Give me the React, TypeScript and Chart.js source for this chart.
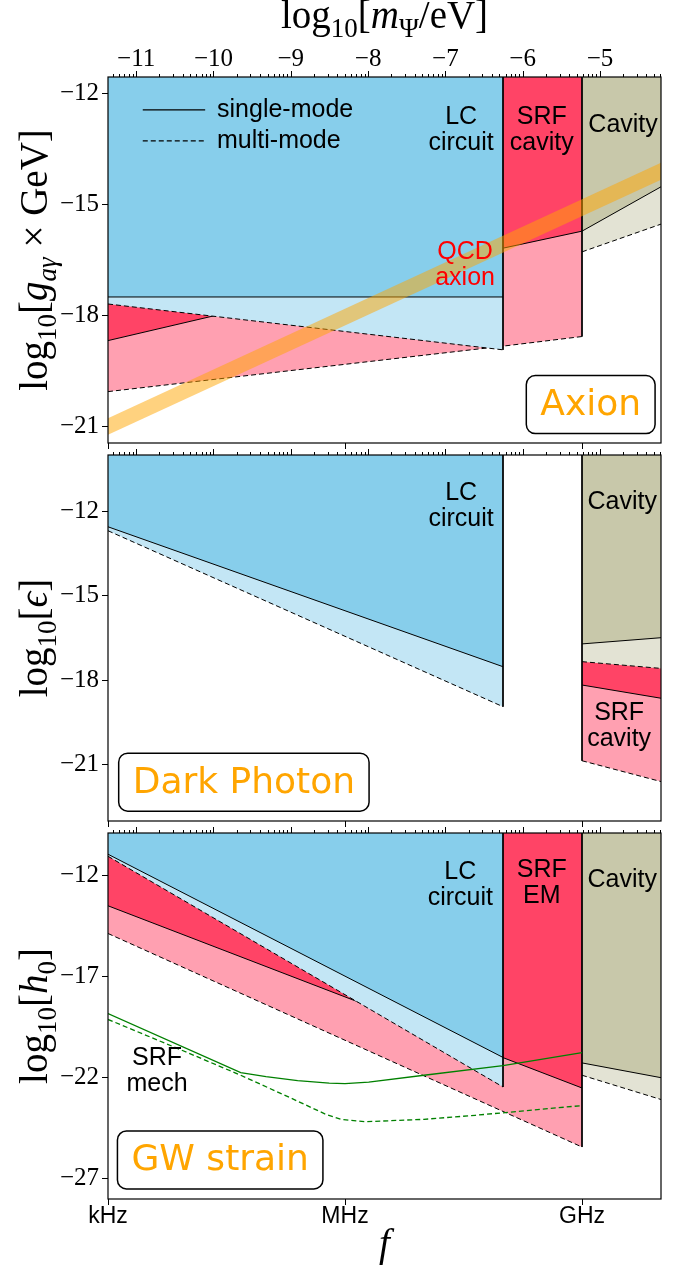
import React, { useEffect, useRef } from 'react';
import { Chart, registerables } from 'chart.js';

Chart.register(...registerables);

type Pt = [number, number];

// ---------------- axes ----------------
const F_RANGE: [number, number] = [3, 10]; // log10(f / Hz)
const MASS_RANGE: [number, number] = [-11.365, -4.21]; // log10(m / eV), top axis
const freqTicks = [3, 6, 9];
const freqTickLabels = ['kHz', 'MHz', 'GHz'];
const massTicks = [-11, -10, -9, -8, -7, -6, -5];

const axionYRange: [number, number] = [-21.45, -11.55];
const axionYTicks = [-12, -15, -18, -21];
const photonYRange: [number, number] = [-23, -10];
const photonYTicks = [-12, -15, -18, -21];
const gwYRange: [number, number] = [-28, -9.9];
const gwYTicks = [-12, -17, -22, -27];

// ---------------- Axion panel ----------------
const axionLcSingle: Pt[] = [[3, -17.5], [8, -17.5]];
const axionLcMulti: Pt[] = [[3, -17.69], [8, -18.93]];
const axionSrfSingle: Pt[] = [[3, -18.68], [8, -16.18], [9, -15.72]];
const axionSrfMulti: Pt[] = [[3, -20.06], [8, -18.83], [9, -18.57]];
const axionCavSingle: Pt[] = [[9, -15.72], [10, -14.52]];
const axionCavMulti: Pt[] = [[9, -16.28], [10, -15.53]];
const qcdAxionUpper: Pt[] = [[3, -20.78], [10, -13.87]];
const qcdAxionLower: Pt[] = [[3, -21.23], [10, -14.33]];

// ---------------- Dark photon panel ----------------
const photonLcSingle: Pt[] = [[3, -12.55], [8, -17.52]];
const photonLcMulti: Pt[] = [[3, -12.69], [8, -18.94]];
const photonSrfSingle: Pt[] = [[9, -18.17], [10, -18.64]];
const photonSrfMulti: Pt[] = [[9, -20.86], [10, -21.6]];
const photonCavSingle: Pt[] = [[9, -16.71], [10, -16.49]];
const photonCavMulti: Pt[] = [[9, -17.34], [10, -17.58]];

// ---------------- GW strain panel ----------------
const gwLcSingle: Pt[] = [[3, -10.95], [8, -21.0]];
const gwLcMulti: Pt[] = [[3, -11.05], [8, -22.46]];
const gwSrfSingle: Pt[] = [[3, -13.5], [9, -22.51]];
const gwSrfMulti: Pt[] = [[3, -14.87], [9, -25.43]];
const gwCavSingle: Pt[] = [[9, -21.27], [10, -22.0]];
const gwCavMulti: Pt[] = [[9, -21.88], [10, -23.08]];
const gwMechSingle: Pt[] = [
  [3, -18.83], [4.68, -21.75], [5.0, -21.95], [5.4, -22.15], [5.8, -22.27],
  [6.0, -22.29], [6.3, -22.22], [7.0, -21.88], [8.0, -21.4], [9.0, -20.76],
];
const gwMechMulti: Pt[] = [
  [3, -19.12], [4.0, -20.75], [4.68, -21.88], [5.3, -22.98], [5.75, -23.8],
  [5.95, -24.06], [6.25, -24.18], [7.0, -24.06], [7.65, -23.86], [9.0, -23.38],
];

// ---------------- annotations (data coordinates) ----------------
type Label = { lines: string[]; x: number; y: number; color?: string };
type BoxLabel = { text: string; x: number; y: number };

const axionLabels: Label[] = [
  { lines: ['LC', 'circuit'], x: 7.47, y: -12.63 },
  { lines: ['SRF', 'cavity'], x: 8.49, y: -12.63 },
  { lines: ['Cavity'], x: 9.52, y: -12.85 },
  { lines: ['QCD', 'axion'], x: 7.52, y: -16.28, color: '#FF0000' },
];
const photonLabels: Label[] = [
  { lines: ['LC', 'circuit'], x: 7.47, y: -11.35 },
  { lines: ['Cavity'], x: 9.51, y: -11.67 },
  { lines: ['SRF', 'cavity'], x: 9.47, y: -19.17 },
];
const gwLabels: Label[] = [
  { lines: ['LC', 'circuit'], x: 7.46, y: -11.83 },
  { lines: ['SRF', 'EM'], x: 8.49, y: -11.73 },
  { lines: ['Cavity'], x: 9.51, y: -12.22 },
  { lines: ['SRF', 'mech'], x: 3.62, y: -21.03 },
];
const axionBox: BoxLabel = { text: 'Axion', x: 9.11, y: -20.41 };
const photonBox: BoxLabel = { text: 'Dark Photon', x: 4.72, y: -21.62 };
const gwBox: BoxLabel = { text: 'GW strain', x: 4.42, y: -26.07 };

const legendLabels = ['single-mode', 'multi-mode'];
const legendLineX: [number, number] = [3.44, 4.23];
const legendRowY = [-12.44, -13.28];
const legendTextX = 4.38;

// ---------------- styles ----------------
const COLORS = {
  lc: '#87CEEB',
  lcMulti: '#C3E6F5',
  srf: '#FF4466',
  srfMulti: '#FFA0B1',
  cav: '#C8C8AA',
  cavMulti: '#E3E3D4',
  qcd: 'rgba(255,165,0,0.5)',
  mech: '#008000',
  box: '#FFA500',
};
const SANS = '"Liberation Sans", Arial, Helvetica, sans-serif';
const SERIF = '"Liberation Serif", "Times New Roman", serif';
const DEJAVU = '"DejaVu Sans", sans-serif';
const DASH = [5, 3];

type Piece = { t: string; italic?: boolean; sub?: boolean };

const titleAxion: Piece[] = [
  { t: 'log' }, { t: '10', sub: true }, { t: '[' }, { t: 'g', italic: true },
  { t: 'aγ', italic: true, sub: true }, { t: ' × ' }, { t: 'GeV' }, { t: ']' },
];
const titlePhoton: Piece[] = [
  { t: 'log' }, { t: '10', sub: true }, { t: '[' }, { t: 'ϵ', italic: true }, { t: ']' },
];
const titleGw: Piece[] = [
  { t: 'log' }, { t: '10', sub: true }, { t: '[' }, { t: 'h', italic: true },
  { t: '0', sub: true }, { t: ']' },
];
const titleMass: Piece[] = [
  { t: 'log' }, { t: '10', sub: true }, { t: '[' }, { t: 'm', italic: true },
  { t: 'Ψ', sub: true }, { t: '/eV' }, { t: ']' },
];
const titleFreq: Piece[] = [{ t: 'f', italic: true }];

function drawMath(ctx: CanvasRenderingContext2D, pieces: Piece[], size: number, cx: number, cy: number, rotate: boolean) {
  const fontFor = (p: Piece) => `${p.italic ? 'italic ' : ''}${p.sub ? Math.round(size * 0.7) : size}px ${SERIF}`;
  ctx.save();
  ctx.translate(cx, cy);
  if (rotate) ctx.rotate(-Math.PI / 2);
  let total = 0;
  const widths = pieces.map((p) => {
    ctx.font = fontFor(p);
    const w = ctx.measureText(p.t).width;
    total += w;
    return w;
  });
  let x = -total / 2;
  ctx.textAlign = 'left';
  ctx.textBaseline = 'alphabetic';
  ctx.fillStyle = '#000';
  pieces.forEach((p, i) => {
    ctx.font = fontFor(p);
    ctx.fillText(p.t, x, p.sub ? size * 0.22 : 0);
    x += widths[i];
  });
  ctx.restore();
}

const toXY = (pts: Pt[]) => pts.map(([x, y]) => ({ x, y }));

function region(pts: Pt[], fill: string, dashed: boolean) {
  return {
    data: toXY(pts),
    borderColor: '#000',
    borderWidth: 1,
    borderDash: dashed ? DASH : [],
    backgroundColor: fill,
    fill: 'end',
    pointRadius: 0,
    tension: 0,
  };
}
function edge(x: number, yTop: number, yBottom: number) {
  return {
    data: [{ x, y: yTop }, { x, y: yBottom }],
    borderColor: '#000',
    borderWidth: 1,
    fill: false,
    pointRadius: 0,
  };
}
function curve(pts: Pt[], color: string, dashed: boolean, width: number) {
  return {
    data: toXY(pts),
    borderColor: color,
    borderWidth: width,
    borderDash: dashed ? DASH : [],
    fill: false,
    pointRadius: 0,
    tension: 0,
  };
}
// first in list = drawn first (bottom)
function layered(list: any[]) {
  return list.map((d, i) => ({ ...d, order: list.length - i }));
}

interface PanelSpec {
  yRange: [number, number];
  yTicks: number[];
  datasets: any[];
  labels: Label[];
  box: BoxLabel;
  yTitle: Piece[];
  massLabels: boolean;
  freqLabels: boolean;
  padTop: number;
  bottomSpace: number;
  legend?: boolean;
}

const last = (p: Pt[]) => p[p.length - 1][1];
const first = (p: Pt[]) => p[0][1];

const axionSpec: PanelSpec = {
  yRange: axionYRange,
  yTicks: axionYTicks,
  datasets: layered([
    region(axionSrfMulti, COLORS.srfMulti, true),
    region(axionSrfSingle, COLORS.srf, false),
    region(axionLcMulti, COLORS.lcMulti, true),
    region(axionLcSingle, COLORS.lc, false),
    region(axionCavMulti, COLORS.cavMulti, true),
    region(axionCavSingle, COLORS.cav, false),
    edge(axionLcMulti[axionLcMulti.length - 1][0], axionYRange[1], last(axionLcMulti)),
    edge(axionSrfMulti[axionSrfMulti.length - 1][0], axionYRange[1], last(axionSrfMulti)),
    { data: toXY(qcdAxionUpper), borderWidth: 0, borderColor: 'rgba(0,0,0,0)', fill: false, pointRadius: 0 },
    { data: toXY(qcdAxionLower), borderWidth: 0, borderColor: 'rgba(0,0,0,0)', backgroundColor: COLORS.qcd, fill: '-1', pointRadius: 0 },
  ]),
  labels: axionLabels,
  box: axionBox,
  yTitle: titleAxion,
  massLabels: true,
  freqLabels: false,
  padTop: 0,
  bottomSpace: 6,
  legend: true,
};

const photonSpec: PanelSpec = {
  yRange: photonYRange,
  yTicks: photonYTicks,
  datasets: layered([
    region(photonSrfMulti, COLORS.srfMulti, true),
    region(photonSrfSingle, COLORS.srf, false),
    region(photonCavMulti, COLORS.cavMulti, true),
    region(photonCavSingle, COLORS.cav, false),
    region(photonLcMulti, COLORS.lcMulti, true),
    region(photonLcSingle, COLORS.lc, false),
    edge(photonLcMulti[photonLcMulti.length - 1][0], photonYRange[1], last(photonLcMulti)),
    edge(photonSrfMulti[0][0], photonYRange[1], first(photonSrfMulti)),
  ]),
  labels: photonLabels,
  box: photonBox,
  yTitle: titlePhoton,
  massLabels: false,
  freqLabels: false,
  padTop: 6,
  bottomSpace: 6,
};

const gwSpec: PanelSpec = {
  yRange: gwYRange,
  yTicks: gwYTicks,
  datasets: layered([
    region(gwSrfMulti, COLORS.srfMulti, true),
    region(gwSrfSingle, COLORS.srf, false),
    region(gwLcMulti, COLORS.lcMulti, true),
    region(gwLcSingle, COLORS.lc, false),
    region(gwCavMulti, COLORS.cavMulti, true),
    region(gwCavSingle, COLORS.cav, false),
    edge(gwLcMulti[gwLcMulti.length - 1][0], gwYRange[1], last(gwLcMulti)),
    edge(gwSrfMulti[gwSrfMulti.length - 1][0], gwYRange[1], last(gwSrfMulti)),
    curve(gwMechSingle, COLORS.mech, false, 1.3),
    curve(gwMechMulti, COLORS.mech, true, 1.3),
  ]),
  labels: gwLabels,
  box: gwBox,
  yTitle: titleGw,
  massLabels: false,
  freqLabels: true,
  padTop: 6,
  bottomSpace: 67,
};

const minus = (v: number) => (v < 0 ? '\u2212' + Math.abs(v) : String(v));

function zeroPad(s: any) {
  s.paddingLeft = 0;
  s.paddingRight = 0;
  s.paddingTop = 0;
  s.paddingBottom = 0;
}

function makeChart(canvas: HTMLCanvasElement, spec: PanelSpec): Chart {
  const decor = {
    id: 'panelDecor',
    afterDatasetsDraw(chart: any) {
      const { ctx, chartArea: a } = chart;
      const xm = chart.scales.xm;
      ctx.save();
      ctx.setLineDash([]);
      ctx.strokeStyle = '#000';
      ctx.lineWidth = 1.2;
      ctx.strokeRect(a.left, a.top, a.right - a.left, a.bottom - a.top);
      ctx.lineWidth = 1;
      for (let d = Math.floor(MASS_RANGE[0]); d <= Math.ceil(MASS_RANGE[1]); d++) {
        for (let k = 1; k <= 9; k++) {
          const v = d + Math.log10(k);
          if (v < MASS_RANGE[0] || v > MASS_RANGE[1]) continue;
          const px = Math.round(xm.getPixelForValue(v)) + 0.5;
          const len = k === 1 ? 6 : 3;
          ctx.beginPath();
          ctx.moveTo(px, a.top);
          ctx.lineTo(px, a.top - len);
          ctx.stroke();
        }
      }
      ctx.restore();
    },
    afterDraw(chart: any) {
      const { ctx, chartArea: a } = chart;
      const sx = chart.scales.x;
      const sy = chart.scales.y;
      ctx.save();
      // region labels
      ctx.font = `25px ${SANS}`;
      ctx.textAlign = 'center';
      ctx.textBaseline = 'middle';
      spec.labels.forEach((lab) => {
        const px = sx.getPixelForValue(lab.x);
        const py = sy.getPixelForValue(lab.y);
        ctx.fillStyle = lab.color || '#000';
        lab.lines.forEach((t, i) => ctx.fillText(t, px, py + i * 26));
      });
      // boxed panel name
      {
        const b = spec.box;
        const px = sx.getPixelForValue(b.x);
        const py = sy.getPixelForValue(b.y);
        ctx.font = `36px ${DEJAVU}`;
        const w = ctx.measureText(b.text).width + 28;
        const h = 58;
        ctx.beginPath();
        (ctx as any).roundRect(px - w / 2, py - h / 2, w, h, 9);
        ctx.fillStyle = '#fff';
        ctx.fill();
        ctx.lineWidth = 1.5;
        ctx.strokeStyle = '#000';
        ctx.stroke();
        ctx.fillStyle = COLORS.box;
        ctx.textAlign = 'center';
        ctx.textBaseline = 'middle';
        ctx.fillText(b.text, px, py + 1);
      }
      // legend
      if (spec.legend) {
        const x0 = sx.getPixelForValue(legendLineX[0]);
        const x1 = sx.getPixelForValue(legendLineX[1]);
        const tx = sx.getPixelForValue(legendTextX);
        legendLabels.forEach((t, i) => {
          const py = sy.getPixelForValue(legendRowY[i]);
          ctx.strokeStyle = '#000';
          ctx.lineWidth = 1.2;
          ctx.setLineDash(i === 0 ? [] : DASH);
          ctx.beginPath();
          ctx.moveTo(x0, py);
          ctx.lineTo(x1, py);
          ctx.stroke();
          ctx.setLineDash([]);
          ctx.fillStyle = '#000';
          ctx.font = `25px ${SANS}`;
          ctx.textAlign = 'left';
          ctx.textBaseline = 'middle';
          ctx.fillText(t, tx, py);
        });
      }
      ctx.restore();
      // axis titles
      drawMath(ctx, spec.yTitle, 39, 47, (a.top + a.bottom) / 2, true);
      if (spec.massLabels) drawMath(ctx, titleMass, 39, (a.left + a.right) / 2, 28, false);
      if (spec.freqLabels) drawMath(ctx, titleFreq, 39, (a.left + a.right) / 2, a.bottom + 57, false);
    },
  };

  const tickGrid = {
    display: true,
    drawOnChartArea: false,
    drawTicks: true,
    tickLength: 6,
    color: '#000',
    lineWidth: 1,
  };

  return new Chart(canvas, {
    type: 'line',
    data: { datasets: spec.datasets },
    options: {
      responsive: false,
      animation: false,
      devicePixelRatio: 1,
      events: [],
      layout: { padding: { left: 0, right: 28, top: spec.padTop, bottom: 0 } },
      plugins: {
        legend: { display: false },
        tooltip: { enabled: false },
      },
      scales: {
        x: {
          type: 'linear',
          position: 'bottom',
          min: F_RANGE[0],
          max: F_RANGE[1],
          afterBuildTicks: (s: any) => {
            s.ticks = freqTicks.map((v) => ({ value: v }));
          },
          afterFit: (s: any) => {
            s.height = spec.bottomSpace;
            zeroPad(s);
          },
          ticks: {
            display: spec.freqLabels,
            autoSkip: false,
            maxRotation: 0,
            padding: 0,
            color: '#000',
            font: { family: SANS, size: 23, lineHeight: 1 },
            callback: (v: any) => freqTickLabels[freqTicks.indexOf(Number(v))],
          },
          grid: tickGrid,
          border: { display: false },
        },
        xm: {
          type: 'linear',
          position: 'top',
          display: spec.massLabels,
          min: MASS_RANGE[0],
          max: MASS_RANGE[1],
          afterBuildTicks: (s: any) => {
            s.ticks = massTicks.map((v) => ({ value: v }));
          },
          afterFit: (s: any) => {
            s.height = spec.massLabels ? 77 : 0;
            zeroPad(s);
          },
          ticks: {
            autoSkip: false,
            maxRotation: 0,
            padding: 5,
            color: '#000',
            font: { family: SERIF, size: 25, lineHeight: 1 },
            callback: (v: any) => minus(Number(v)),
          },
          grid: { display: false, drawTicks: false },
          border: { display: false },
        },
        y: {
          type: 'linear',
          position: 'left',
          min: spec.yRange[0],
          max: spec.yRange[1],
          afterBuildTicks: (s: any) => {
            s.ticks = spec.yTicks.map((v) => ({ value: v }));
          },
          afterFit: (s: any) => {
            s.width = 108;
            zeroPad(s);
          },
          ticks: {
            autoSkip: false,
            padding: 3,
            color: '#000',
            font: { family: SERIF, size: 25 },
            callback: (v: any) => minus(Number(v)),
          },
          grid: tickGrid,
          border: { display: false },
        },
      },
    } as any,
    plugins: [decor],
  });
}

export default function App() {
  const refA = useRef<HTMLCanvasElement>(null);
  const refB = useRef<HTMLCanvasElement>(null);
  const refC = useRef<HTMLCanvasElement>(null);

  useEffect(() => {
    const charts = [
      makeChart(refA.current!, axionSpec),
      makeChart(refB.current!, photonSpec),
      makeChart(refC.current!, gwSpec),
    ];
    return () => charts.forEach((c) => c.destroy());
  }, []);

  return (
    <div style={{ position: 'absolute', left: 0, top: 0, width: 689, height: 1266, background: '#fff' }}>
      <canvas ref={refA} width={689} height={449} style={{ position: 'absolute', left: 0, top: 0, width: 689, height: 449 }} />
      <canvas ref={refB} width={689} height={378} style={{ position: 'absolute', left: 0, top: 449, width: 689, height: 378 }} />
      <canvas ref={refC} width={689} height={439} style={{ position: 'absolute', left: 0, top: 827, width: 689, height: 439 }} />
    </div>
  );
}
